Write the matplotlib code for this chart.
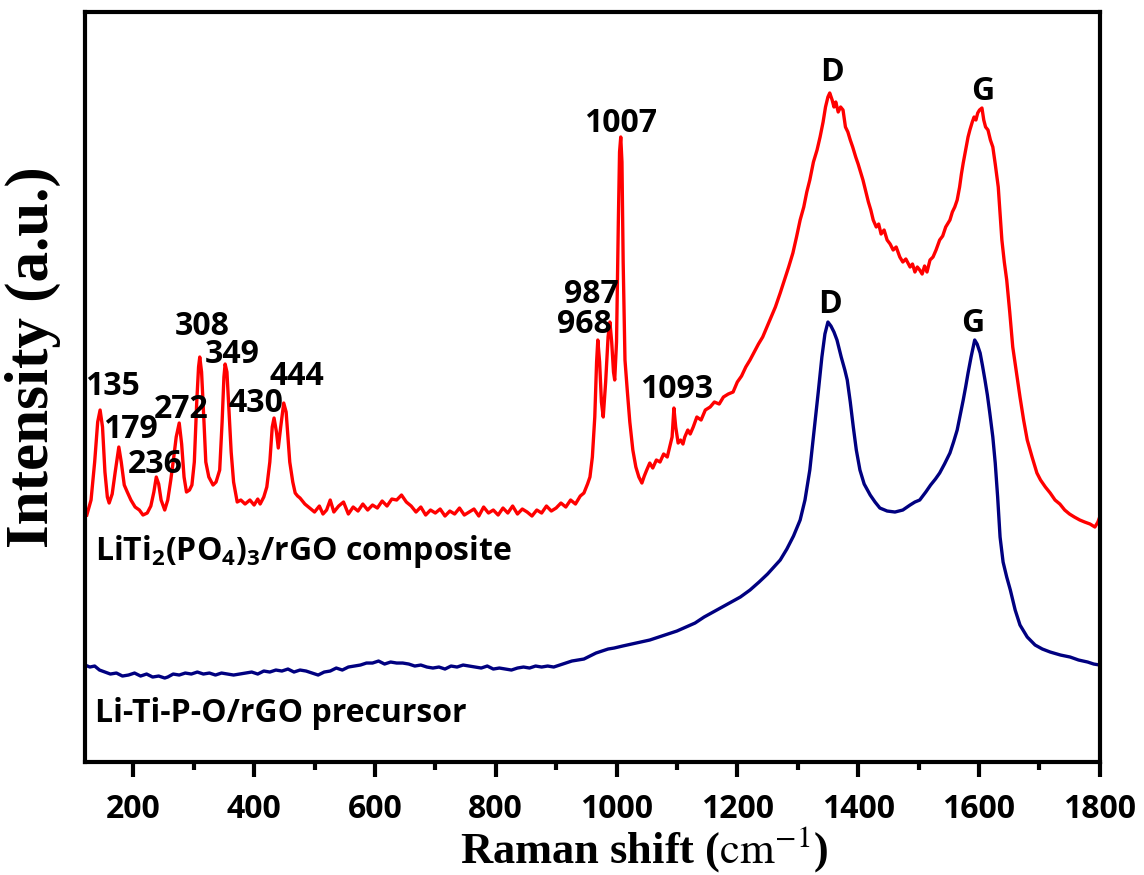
import matplotlib
matplotlib.use("Agg")
import matplotlib.pyplot as plt
from matplotlib.ticker import MultipleLocator

# composite spectrum (red)
red_shift = [123, 130, 136, 141, 145, 149, 153, 157, 160, 165, 170, 176, 180, 185, 190, 196,
             203, 210, 216, 223, 229, 234, 238, 242, 246, 252, 257, 262, 267, 271, 276, 280,
             284, 288, 293, 297, 301, 305, 308, 310, 313, 317, 320, 325, 332, 337, 343, 347,
             350, 352, 355, 359, 362, 366, 372, 378, 385, 393, 400, 406, 410, 416, 421, 426,
             430, 433, 437, 440, 444, 449, 453, 456, 459, 464, 468, 472, 476, 484, 492, 500,
             508, 514, 520, 526, 532, 540, 548, 556, 564, 572, 580, 588, 596, 604, 612, 620,
             628, 636, 644, 652, 660, 668, 676, 684, 692, 700, 708, 716, 724, 732, 740, 748,
             756, 764, 772, 780, 788, 796, 804, 812, 820, 828, 836, 844, 852, 860, 868, 876,
             884, 892, 900, 908, 916, 924, 932, 940, 946, 952, 956, 960, 964, 967, 969, 972,
             975, 978, 982, 986, 989, 992, 995, 997, 1000, 1003, 1005, 1007, 1009, 1011, 1014,
             1018, 1022, 1027, 1032, 1037, 1042, 1046, 1050, 1055, 1060, 1066, 1072, 1078,
             1084, 1088, 1092, 1095, 1098, 1102, 1106, 1110, 1113, 1118, 1122, 1127, 1133,
             1140, 1147, 1155, 1162, 1170, 1177, 1185, 1193, 1200, 1207, 1214, 1221, 1228,
             1235, 1242, 1249, 1256, 1263, 1271, 1278, 1285, 1292, 1298, 1304, 1310, 1315,
             1320, 1326, 1332, 1337, 1342, 1346, 1350, 1353, 1357, 1360, 1363, 1367, 1371,
             1375, 1379, 1383, 1387, 1391, 1396, 1400, 1404, 1408, 1413, 1417, 1421, 1425,
             1430, 1434, 1438, 1443, 1448, 1453, 1458, 1463, 1469, 1474, 1479, 1486, 1490,
             1494, 1498, 1502, 1506, 1510, 1514, 1519, 1524, 1529, 1535, 1540, 1545, 1552,
             1556, 1560, 1564, 1568, 1571, 1574, 1578, 1582, 1585, 1589, 1592, 1595, 1598,
             1601, 1605, 1608, 1611, 1615, 1619, 1623, 1627, 1632, 1635, 1638, 1642, 1646,
             1651, 1656, 1662, 1668, 1674, 1680, 1688, 1696, 1702, 1710, 1718, 1726, 1734,
             1742, 1750, 1758, 1767, 1775, 1784, 1792, 1797, 1800]
red_int = [247, 262, 300, 340, 352, 335, 290, 265, 259, 268, 290, 315, 300, 277, 270, 262,
           255, 252, 247, 249, 256, 270, 285, 278, 262, 252, 262, 282, 305, 325, 339, 318,
           285, 270, 272, 277, 300, 360, 395, 405, 390, 340, 300, 285, 277, 280, 292, 340,
           385, 398, 390, 345, 310, 280, 260, 262, 258, 262, 257, 263, 258, 265, 275, 300,
           335, 344, 330, 314, 335, 359, 350, 325, 300, 280, 269, 266, 264, 258, 254, 250,
           256, 248, 252, 262, 250, 256, 260, 248, 255, 251, 258, 252, 257, 254, 261, 256,
           263, 262, 267, 260, 256, 250, 255, 247, 252, 249, 253, 246, 251, 248, 254, 247,
           250, 253, 246, 255, 249, 252, 247, 254, 249, 256, 248, 253, 250, 246, 252, 249,
           256, 251, 254, 259, 255, 262, 258, 266, 269, 278, 285, 305, 345, 400, 422, 400,
           360, 345, 380, 425, 440, 420, 390, 382, 420, 540, 610, 625, 600, 500, 402,
           370, 340, 312, 295, 285, 279, 286, 292, 299, 294, 302, 300, 308,
           305, 315, 325, 354, 335, 319, 322, 318, 325, 332, 328, 335, 345,
           342, 352, 355, 360, 358, 365, 368, 370, 380, 386, 395, 402, 410,
           418, 425, 435, 445, 455, 469, 482, 495, 509, 525, 542, 555, 570,
           582, 600, 612, 625, 640, 655, 665, 669, 662, 655, 660, 650, 655,
           652, 635, 630, 622, 615, 605, 598, 590, 582, 570, 560, 552, 542,
           535, 538, 528, 532, 522, 518, 512, 515, 505, 500, 503, 495, 498,
           490, 495, 492, 488, 496, 490, 502, 505, 512, 522, 526, 535, 542,
           550, 555, 562, 575, 588, 599, 612, 625, 632, 640, 645, 642, 649,
           652, 654, 642, 635, 632, 622, 615, 598, 575, 548, 522, 500, 482,
           450, 415, 390, 365, 342, 322, 305, 289, 282, 275, 269, 262, 258,
           252, 248, 245, 242, 240, 238, 235, 240, 245]

# precursor spectrum (navy)
blue_shift = [120, 128, 136, 144, 153, 162, 172, 182, 192, 202, 212, 222, 232, 242, 252, 257,
              266, 276, 286, 296, 306, 316, 326, 336, 346, 356, 366, 376, 386, 396, 406, 416,
              426, 436, 446, 456, 466, 476, 486, 496, 506, 516, 526, 536, 546, 556, 566, 576,
              586, 596, 606, 616, 626, 636, 646, 656, 666, 676, 686, 696, 706, 716, 726, 736,
              746, 756, 766, 776, 786, 796, 806, 816, 826, 836, 846, 856, 866, 876, 886, 896,
              906, 916, 926, 936, 946, 956, 966, 976, 986, 996, 1010, 1025, 1040, 1055, 1070,
              1085, 1100, 1115, 1130, 1145, 1160, 1175, 1190, 1205, 1221, 1236, 1250, 1262,
              1271, 1282, 1293, 1304, 1312, 1320, 1328, 1334, 1340, 1345, 1350, 1355, 1360,
              1365, 1372, 1378, 1382, 1387, 1392, 1397, 1403, 1410, 1420, 1428, 1436, 1448,
              1461, 1474, 1486, 1494, 1502, 1512, 1520, 1528, 1535, 1543, 1552, 1558, 1564,
              1569, 1574, 1578, 1582, 1587, 1593, 1597, 1602, 1606, 1610, 1614, 1618, 1623,
              1627, 1631, 1635, 1640, 1646, 1652, 1660, 1668, 1680, 1693, 1705, 1718, 1735,
              1751, 1765, 1780, 1790, 1800]
blue_int = [97, 95, 96, 92, 90, 88, 89, 86, 87, 89, 86, 88, 85, 86, 84, 85,
            88, 87, 89, 88, 90, 88, 89, 87, 89, 88, 87, 88, 89, 90, 88, 91,
            90, 92, 91, 93, 90, 92, 91, 89, 87, 90, 91, 94, 92, 95, 96, 97,
            99, 99, 101, 98, 100, 99, 99, 98, 96, 97, 95, 94, 95, 93, 96, 95,
            97, 96, 95, 94, 96, 93, 94, 93, 92, 94, 95, 94, 96, 95, 96, 95,
            97, 99, 101, 102, 103, 106, 109, 111, 113, 114, 116, 118, 120, 122, 125,
            128, 131, 135, 139, 145, 150, 155, 160, 165, 172, 180, 188, 196,
            202, 213, 226, 242, 262, 292, 336, 370, 405, 428, 440, 436, 430,
            422, 405, 392, 382, 360, 335, 312, 292, 278, 267, 260, 254, 251,
            250, 252, 257, 260, 262, 270, 277, 283, 289, 298, 309, 320, 332,
            347, 362, 375, 389, 405, 422, 418, 409, 396, 382, 367, 349, 325,
            299, 265, 225, 200, 185, 172, 152, 137, 125, 117, 113, 110, 107,
            105, 102, 100, 98, 97]

# peak labels: (text, x, y baseline) in data units
red_labels = [("135", 165, 367), ("179", 195, 324), ("236", 236, 289), ("272", 279, 344),
              ("308", 314, 427), ("349", 363, 399), ("430", 403, 350), ("444", 471, 377),
              ("968", 946, 429), ("987", 959, 459), ("1007", 1007, 630), ("1093", 1100, 364),
              ("D", 1357, 681), ("G", 1607, 662)]
blue_labels = [("D", 1353, 449), ("G", 1590, 430)]

fig = plt.figure(figsize=(11.44, 8.75), dpi=100)
ax = fig.add_axes([0.0743, 0.1291, 0.887, 0.8572])

ax.plot(red_shift, red_int, color="#ff0000", lw=2.4)
ax.plot(blue_shift, blue_int, color="#000080", lw=2.4)

lab_font = dict(family="Open Sans", weight="bold", size=23)
for t, x, y in red_labels + blue_labels:
    ax.text(x, y, t, ha="center", va="baseline", **lab_font)

ax.text(136, 202, r"LiTi$\mathregular{_2}$(PO$\mathregular{_4}$)$\mathregular{_3}$/rGO composite",
        ha="left", va="baseline", **lab_font)
ax.text(136, 40, "Li-Ti-P-O/rGO precursor", ha="left", va="baseline", **lab_font)

ax.set_xlim(120, 1800)
ax.set_ylim(0, 750)
ax.xaxis.set_major_locator(MultipleLocator(200))
ax.xaxis.set_minor_locator(MultipleLocator(100))
ax.set_yticks([])
ax.tick_params(axis="x", which="major", direction="out", length=11, width=3, pad=11)
ax.tick_params(axis="x", which="minor", direction="out", length=6, width=3)
for lbl in ax.get_xticklabels():
    lbl.set_fontfamily("Open Sans")
    lbl.set_fontweight("bold")
    lbl.set_fontsize(23)
for sp in ax.spines.values():
    sp.set_linewidth(3)

ax.set_xlabel(r"Raman shift ($\mathrm{cm}^{-1}$)", family="Liberation Serif", weight="bold",
              size=32, math_fontfamily="stix")
ax.xaxis.set_label_coords(0.551, -0.0825, transform=ax.transAxes)
ax.xaxis.label.set_va("top")
ax.set_ylabel("Intensity (a.u.)", family="Liberation Serif", weight="bold", size=44)
ax.yaxis.set_label_coords(-0.051, 0.54, transform=ax.transAxes)
ax.yaxis.label.set_va("center")

fig.savefig("out.png", dpi=100)
